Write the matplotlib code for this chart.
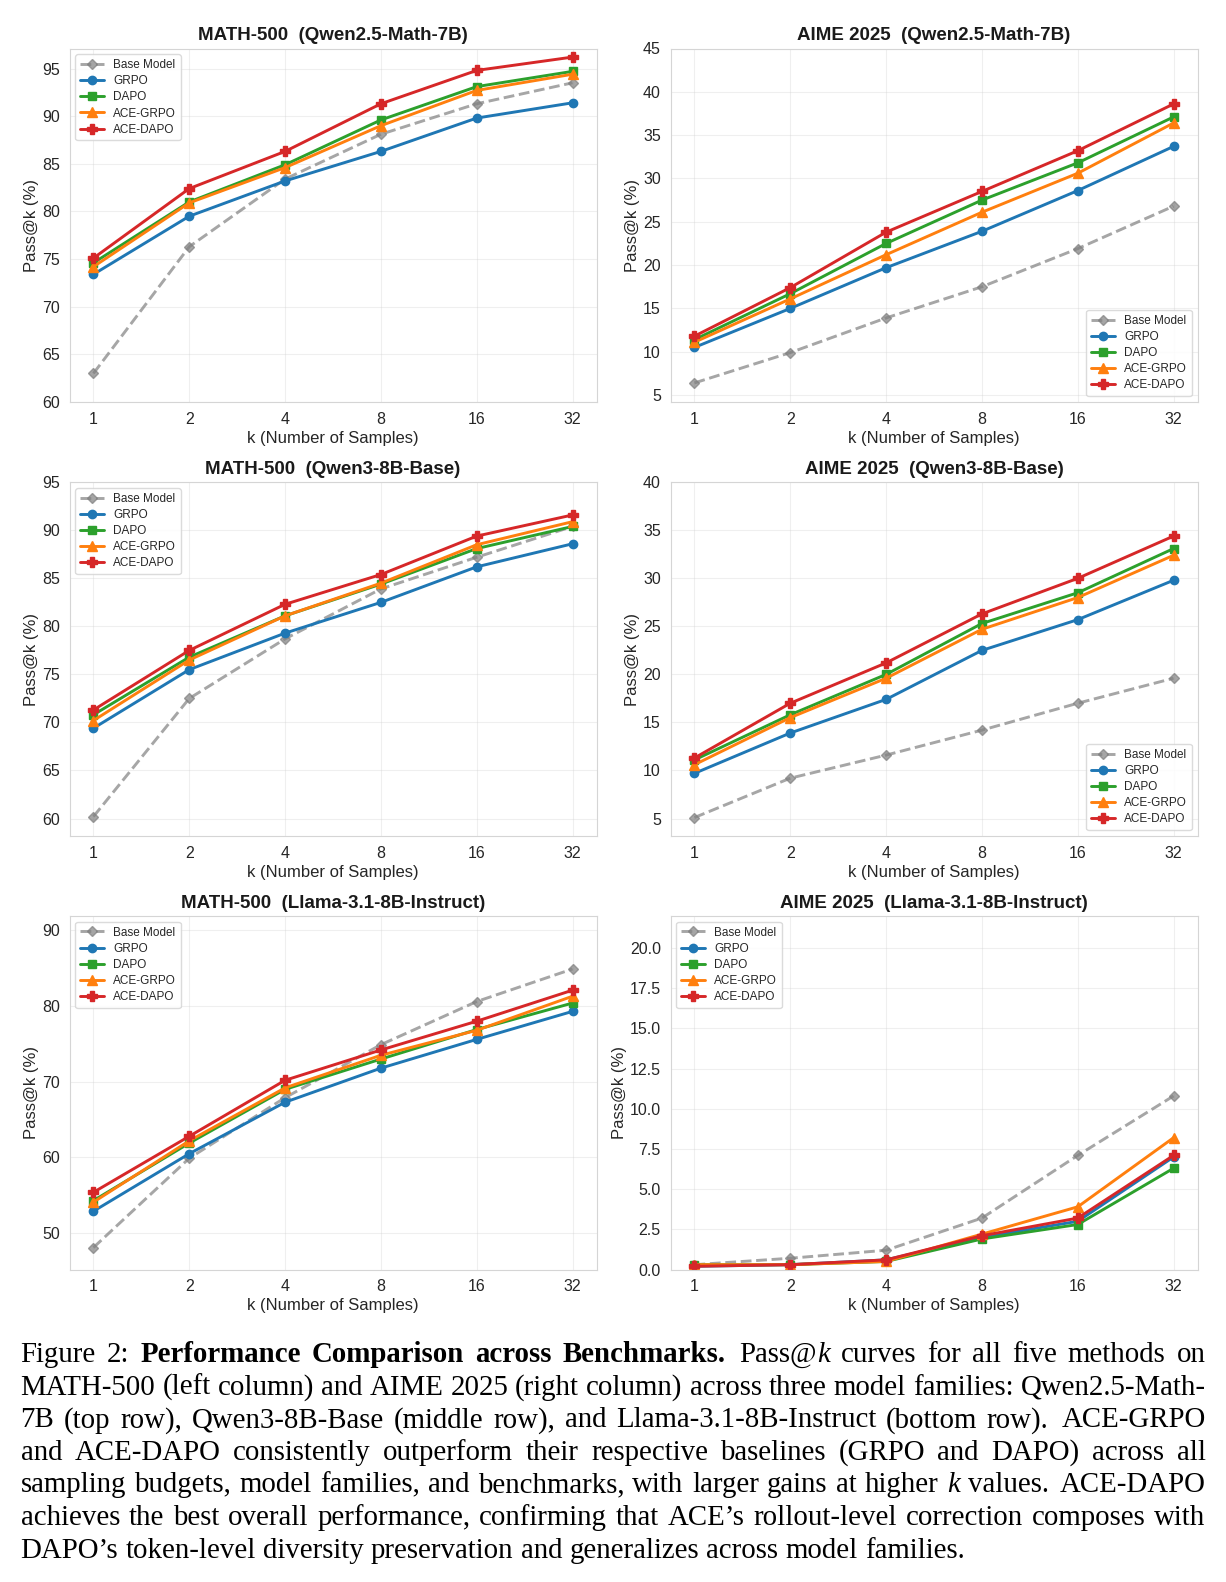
import numpy as np
import matplotlib.pyplot as plt
import seaborn as sns
from matplotlib.ticker import FixedLocator, FixedFormatter, NullLocator

# ---- data (rows follow `methods`) ----
k_values = [1, 2, 4, 8, 16, 32]
methods = ["Base Model", "GRPO", "DAPO", "ACE-GRPO", "ACE-DAPO"]

math_qwen25 = [
    [63.0, 76.3, 83.4, 88.1, 91.3, 93.5],
    [73.4, 79.5, 83.2, 86.3, 89.8, 91.4],
    [74.6, 81.0, 84.9, 89.6, 93.1, 94.7],
    [74.2, 80.9, 84.6, 89.0, 92.7, 94.4],
    [75.1, 82.4, 86.3, 91.3, 94.8, 96.2],
]
aime_qwen25 = [
    [6.4, 9.9, 13.9, 17.5, 21.9, 26.8],
    [10.5, 15.0, 19.7, 23.9, 28.6, 33.7],
    [11.4, 16.7, 22.5, 27.5, 31.8, 37.1],
    [11.1, 16.1, 21.2, 26.1, 30.6, 36.4],
    [11.8, 17.4, 23.8, 28.5, 33.2, 38.6],
]
math_qwen3 = [
    [60.2, 72.5, 78.7, 83.9, 87.2, 90.4],
    [69.4, 75.5, 79.3, 82.5, 86.2, 88.6],
    [70.8, 76.8, 81.1, 84.4, 88.1, 90.4],
    [70.2, 76.5, 81.1, 84.5, 88.5, 90.9],
    [71.3, 77.5, 82.3, 85.4, 89.4, 91.6],
]
aime_qwen3 = [
    [5.1, 9.2, 11.6, 14.2, 17.0, 19.6],
    [9.7, 13.9, 17.4, 22.5, 25.7, 29.8],
    [11.1, 15.8, 20.0, 25.3, 28.5, 33.1],
    [10.6, 15.5, 19.6, 24.7, 28.0, 32.4],
    [11.3, 17.0, 21.2, 26.3, 30.0, 34.4],
]
math_llama = [
    [48.1, 59.9, 67.9, 74.9, 80.6, 84.9],
    [52.9, 60.5, 67.3, 71.8, 75.6, 79.3],
    [54.3, 61.9, 69.0, 73.0, 76.9, 80.4],
    [54.1, 62.2, 69.2, 73.5, 76.8, 81.3],
    [55.4, 62.8, 70.2, 74.2, 78.0, 82.1],
]
aime_llama = [
    [0.3, 0.7, 1.2, 3.2, 7.1, 10.8],
    [0.2, 0.3, 0.6, 2.0, 3.0, 7.0],
    [0.3, 0.3, 0.5, 1.9, 2.8, 6.3],
    [0.3, 0.3, 0.5, 2.2, 3.9, 8.2],
    [0.2, 0.3, 0.6, 2.1, 3.2, 7.1],
]

titles = [
    "MATH-500  (Qwen2.5-Math-7B)", "AIME 2025  (Qwen2.5-Math-7B)",
    "MATH-500  (Qwen3-8B-Base)", "AIME 2025  (Qwen3-8B-Base)",
    "MATH-500  (Llama-3.1-8B-Instruct)", "AIME 2025  (Llama-3.1-8B-Instruct)",
]
panel_data = [math_qwen25, aime_qwen25, math_qwen3, aime_qwen3, math_llama, aime_llama]

caption_lines = [
    "Figure 2: **Performance Comparison across Benchmarks.** Pass@*k* curves for all five methods on",
    "MATH-500 (left column) and AIME 2025 (right column) across three model families: Qwen2.5-Math-",
    "7B (top row), Qwen3-8B-Base (middle row), and Llama-3.1-8B-Instruct (bottom row). ACE-GRPO",
    "and ACE-DAPO consistently outperform their respective baselines (GRPO and DAPO) across all",
    "sampling budgets, model families, and benchmarks, with larger gains at higher *k* values. ACE-DAPO",
    "achieves the best overall performance, confirming that ACE\u2019s rollout-level correction composes with",
    "DAPO\u2019s token-level diversity preservation and generalizes across model families.",
]

# ---- styling / layout ----
sns.set_style("whitegrid")
plt.rcParams["font.family"] = ["Liberation Sans", "DejaVu Sans"]

styles = [
    dict(color="gray", linestyle="--", marker="D", alpha=0.7, markersize=5.5),
    dict(color="#1f77b4", marker="o", markersize=6),
    dict(color="#2ca02c", marker="s", markersize=6),
    dict(color="#ff7f0e", marker="^", markersize=6.5),
    dict(color="#d62728", marker="P", markersize=7.5),
]
ylims = [(60, 97.1), (4.2, 45), (58.2, 95), (3.2, 40), (45.2, 91.9), (0, 22)]
yticks = [np.arange(60, 96, 5), np.arange(5, 46, 5), np.arange(60, 96, 5),
          np.arange(5, 41, 5), np.arange(50, 91, 10), np.arange(0, 20.1, 2.5)]
legend_locs = ["upper left", "lower right", "upper left", "lower right",
               "upper left", "upper left"]

W, H = 1226, 1582
fig = plt.figure(figsize=(W / 100, H / 100), dpi=100)

col_x = [69.5, 670.5]
row_top = [48.5, 482.3, 916.0]
ax_w, ax_h = 527, 353.5

for i in range(6):
    r, c = divmod(i, 2)
    x0, top = col_x[c], row_top[r]
    ax = fig.add_axes([x0 / W, 1 - (top + ax_h) / H, ax_w / W, ax_h / H])
    for m, name in enumerate(methods):
        ax.plot(k_values, panel_data[i][m], label=name, linewidth=2.1, **styles[m])
    ax.set_xscale("log", base=2)
    ax.xaxis.set_major_locator(FixedLocator(k_values))
    ax.xaxis.set_major_formatter(FixedFormatter([str(k) for k in k_values]))
    ax.xaxis.set_minor_locator(NullLocator())
    ax.set_ylim(*ylims[i])
    ax.set_yticks(yticks[i])
    if i == 5:
        ax.set_yticklabels([f"{v:.1f}" for v in yticks[i]])
    ax.tick_params(labelsize=11.5, colors=".15")
    ax.grid(True, alpha=0.3)
    for s in ax.spines.values():
        s.set_edgecolor("#d5d5d5")
    ax.set_title(titles[i], fontsize=13.5, fontweight="bold", color=".1", pad=6)
    ax.set_xlabel("k (Number of Samples)", fontsize=12, color=".15", labelpad=3)
    ax.set_ylabel("Pass@k (%)", fontsize=12, color=".15", labelpad=2)
    ax.legend(loc=legend_locs[i], fontsize=8.5, frameon=True, framealpha=0.85,
              edgecolor="#d5d5d5", borderpad=0.4, labelspacing=0.35)

# ---- caption, justified by hand ----
def parse(line):
    words = [[]]
    state = {"b": False, "i": False, "buf": ""}

    def flush():
        if state["buf"]:
            words[-1].append((state["buf"], state["b"], state["i"]))
            state["buf"] = ""

    j = 0
    while j < len(line):
        if line.startswith("**", j):
            flush(); state["b"] = not state["b"]; j += 2; continue
        if line[j] == "*":
            flush(); state["i"] = not state["i"]; j += 1; continue
        if line[j] == " ":
            flush(); words.append([]); j += 1; continue
        state["buf"] += line[j]
        j += 1
    flush()
    return [w for w in words if w]

cap_size = 20.8
cap_left, cap_right = 20.5, 1205.5
baseline0, line_step = 1362, 32.6
space_px = 0.25 * cap_size * 100 / 72
renderer = fig.canvas.get_renderer()

for li, line in enumerate(caption_lines):
    y = 1 - (baseline0 + li * line_step) / H
    words = parse(line)
    word_runs, word_w = [], []
    for w in words:
        runs, total = [], 0
        for text, b, it in w:
            t = fig.text(0, y, text, fontsize=cap_size, family="Liberation Serif",
                         fontweight="bold" if b else "normal",
                         fontstyle="italic" if it else "normal",
                         va="baseline", ha="left", color="black")
            tw = t.get_window_extent(renderer).width
            runs.append((t, tw))
            total += tw
        word_runs.append(runs)
        word_w.append(total)
    last = li == len(caption_lines) - 1
    weights = [1.3 if words[k][-1][0].endswith(".") else 1.0 for k in range(len(words) - 1)]
    if last:
        gaps = [space_px * wgt for wgt in weights]
    else:
        free = (cap_right - cap_left) - sum(word_w)
        unit = free / sum(weights)
        gaps = [unit * wgt for wgt in weights]
    x = cap_left
    for k, runs in enumerate(word_runs):
        for t, tw in runs:
            t.set_x(x / W)
            x += tw
        if k < len(gaps):
            x += gaps[k]

fig.savefig("out.png", dpi=100)
